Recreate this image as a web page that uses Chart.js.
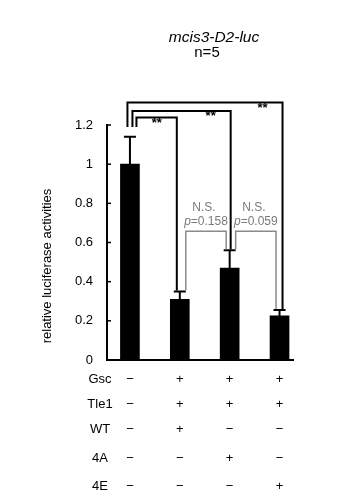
<!DOCTYPE html>
<html>
<head>
<meta charset="utf-8">
<script src="https://cdn.jsdelivr.net/npm/chart.js@4.4.1/dist/chart.umd.min.js"></script>
<style>
  body { margin: 0; background: #fff; }
  #wrap { width: 353px; height: 500px; position: relative; }
</style>
</head>
<body>
<div id="wrap"><canvas id="lucChart"></canvas></div>
<script>
const title = "mcis3-D2-luc";
const subtitle = "n=5";
const yTitle = "relative luciferase activities";

const means = [1.0, 0.31, 0.47, 0.225];
const errors = [0.14, 0.04, 0.09, 0.03];

const rowLabels = ["Gsc", "Tle1", "WT", "4A", "4E"];
const gscRow = ["−", "+", "+", "+"];
const tle1Row = ["−", "+", "+", "+"];
const wtRow = ["−", "+", "−", "−"];
const a4Row = ["−", "−", "+", "−"];
const e4Row = ["−", "−", "−", "+"];

// comparisons against the control bar
const sigPairs = [[0, 1, "**"], [0, 2, "**"], [0, 3, "**"]];
const nsPairs = [[1, 2, "N.S.", "0.158"], [2, 3, "N.S.", "0.059"]];

const FONT = "'Liberation Sans', Arial, sans-serif";

const overlay = {
  id: "overlay",
  afterDatasetsDraw(chart) {
    const ctx = chart.ctx;
    const xs = chart.scales.x;
    const ys = chart.scales.y;
    const area = chart.chartArea;
    const cx = (i) => xs.getPixelForValue(i);
    const errTop = (i) => ys.getPixelForValue(means[i] + errors[i]);

    ctx.save();
    ctx.lineCap = "butt";

    // inward tick marks on y axis
    ctx.strokeStyle = "#000";
    ctx.lineWidth = 1.5;
    ys.ticks.forEach((t) => {
      const y = ys.getPixelForValue(t.value);
      ctx.beginPath();
      ctx.moveTo(area.left, y);
      ctx.lineTo(area.left + 4, y);
      ctx.stroke();
    });

    // error bars (upper only)
    ctx.lineWidth = 2;
    means.forEach((m, i) => {
      const x = cx(i);
      const top = errTop(i);
      ctx.beginPath();
      ctx.moveTo(x, ys.getPixelForValue(m));
      ctx.lineTo(x, top);
      ctx.moveTo(x - 6, top);
      ctx.lineTo(x + 6, top);
      ctx.stroke();
    });

    // black significance brackets
    const blackTop = { 1: 1.238, 2: 1.272, 3: 1.315 };
    const leftOff = { 1: 6.5, 2: 2.5, 3: -2.5 };
    const rightOff = { 1: -3, 2: 1, 3: 3 };
    ctx.lineWidth = 2;
    ctx.strokeStyle = "#000";
    ctx.fillStyle = "#000";
    ctx.font = "bold 13px " + FONT;
    ctx.textAlign = "center";
    ctx.textBaseline = "middle";
    sigPairs.forEach(([a, b, label]) => {
      const yTop = ys.getPixelForValue(blackTop[b]);
      const xl = cx(a) + leftOff[b];
      const xr = cx(b) + rightOff[b];
      ctx.beginPath();
      ctx.moveTo(xl, ys.getPixelForValue(1.19));
      ctx.lineTo(xl, yTop);
      ctx.lineTo(xr, yTop);
      ctx.lineTo(xr, errTop(b) - 1);
      ctx.stroke();
      ctx.fillText(label, xr - 20, yTop + 6);
    });

    // grey N.S. brackets
    const greyTop = ys.getPixelForValue(0.658);
    ctx.strokeStyle = "#8a8a8a";
    ctx.lineWidth = 1.5;
    nsPairs.forEach(([a, b, label, p]) => {
      const xl = cx(a) + 6;
      const xr = cx(b) - 3.5;
      ctx.beginPath();
      ctx.moveTo(xl, errTop(a) - 1);
      ctx.lineTo(xl, greyTop);
      ctx.lineTo(xr, greyTop);
      ctx.lineTo(xr, errTop(b) - 1);
      ctx.stroke();
      const mid = (xl + xr) / 2;
      ctx.fillStyle = "#7a7a7a";
      ctx.font = "12px " + FONT;
      ctx.textAlign = "center";
      ctx.fillText(label, mid - 2, greyTop - 23);
      const rest = "=" + p;
      ctx.font = "italic 12px " + FONT;
      const wp = ctx.measureText("p").width;
      ctx.font = "12px " + FONT;
      const wr = ctx.measureText(rest).width;
      const x0 = mid - (wp + wr) / 2;
      ctx.textAlign = "left";
      ctx.font = "italic 12px " + FONT;
      ctx.fillText("p", x0, greyTop - 9);
      ctx.font = "12px " + FONT;
      ctx.fillText(rest, x0 + wp, greyTop - 9);
    });

    // titles
    ctx.fillStyle = "#000";
    ctx.textAlign = "center";
    ctx.font = "italic 15.5px " + FONT;
    ctx.fillText(title, 214, 38);
    ctx.font = "15px " + FONT;
    ctx.fillText(subtitle, 207, 53);

    // y axis title
    ctx.save();
    ctx.translate(47, 266);
    ctx.rotate(-Math.PI / 2);
    ctx.font = "13px " + FONT;
    ctx.fillText(yTitle, 0, 0);
    ctx.restore();

    // treatment table
    const rows = [gscRow, tle1Row, wtRow, a4Row, e4Row];
    const rowOff = [19, 44, 69, 98, 126];
    ctx.font = "13px " + FONT;
    ctx.fillStyle = "#000";
    rows.forEach((row, r) => {
      const y = area.bottom + rowOff[r];
      ctx.textAlign = "center";
      ctx.fillText(rowLabels[r], 100, y);
      row.forEach((s, i) => {
        ctx.fillText(s, cx(i), y);
      });
    });

    ctx.restore();
  },
};

function renderChart() {
  const ctx = document.getElementById("lucChart").getContext("2d");
  new Chart(ctx, {
    type: "bar",
    data: {
      datasets: [
        {
          data: means.map((m, i) => ({ x: i, y: m })),
          backgroundColor: "#000",
          borderWidth: 0,
          barThickness: 19,
        },
      ],
    },
    options: {
      responsive: true,
      maintainAspectRatio: false,
      animation: false,
      layout: { padding: { left: 0, right: 60, top: 125, bottom: 140 } },
      plugins: {
        legend: { display: false },
        tooltip: { enabled: false },
      },
      scales: {
        x: {
          type: "linear",
          min: -0.46,
          max: 3.27,
          offset: false,
          ticks: { display: false },
          grid: { display: false, offset: false },
          border: { display: true, color: "#000", width: 2 },
          afterFit: (s) => { s.height = 0; },
        },
        y: {
          min: 0,
          max: 1.2,
          ticks: {
            stepSize: 0.2,
            color: "#000",
            padding: 14,
            font: { family: FONT, size: 13 },
            callback: (v) => String(+v.toFixed(1)),
          },
          grid: { display: false, drawTicks: false },
          border: { display: true, color: "#000", width: 2 },
          afterFit: (s) => { s.width = 107; },
        },
      },
    },
    plugins: [overlay],
  });
}

document.addEventListener("DOMContentLoaded", renderChart);
</script>
</body>
</html>
